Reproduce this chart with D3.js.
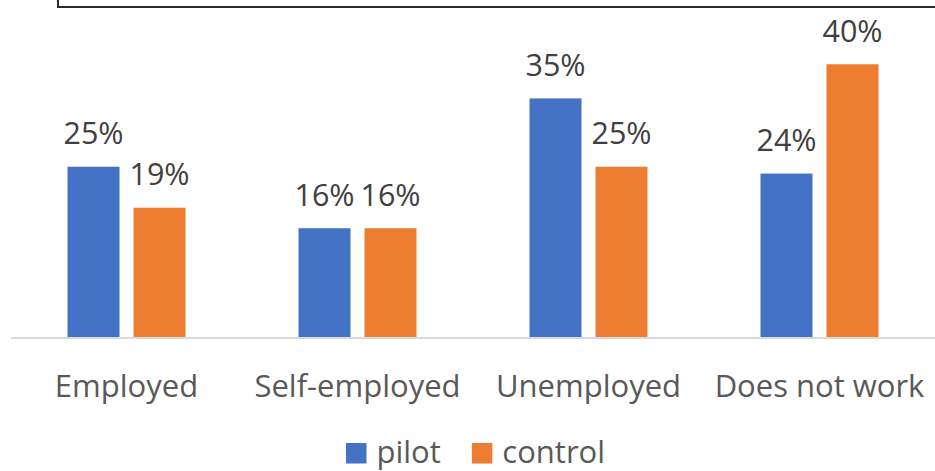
<!DOCTYPE html>
<html>
<head>
<meta charset="utf-8">
<script src="https://cdn.jsdelivr.net/npm/d3@7"></script>
<style>
  html, body { margin: 0; padding: 0; background: #fff; }
  svg { display: block; }
  text { font-family: "Open Sans", Lato, sans-serif; }
</style>
</head>
<body>
<svg id="chart" width="935" height="471"></svg>
<script>
// Employment status by group
const categories = ["Employed", "Self-employed", "Unemployed", "Does not work"];
const seriesNames = ["pilot", "control"];
const pilotValues = [0.25, 0.16, 0.35, 0.24];
const controlValues = [0.19, 0.16, 0.25, 0.40];
const seriesColors = ["#4472C4", "#ED7D31"];

const width = 935, height = 471;
const svg = d3.select("#chart");
const fontFamily = "'Open Sans', Lato, sans-serif";

const rows = categories.map((c, i) => ({
  category: c,
  values: [
    { key: seriesNames[0], value: pilotValues[i], color: seriesColors[0] },
    { key: seriesNames[1], value: controlValues[i], color: seriesColors[1] }
  ]
}));

// frame of the title box above the plot
svg.append("path")
  .attr("d", "M58,-2 V7 H940")
  .attr("fill", "none")
  .attr("stroke", "#2b2b2b")
  .attr("stroke-width", 2);

const x0 = d3.scaleBand().domain(categories).range([11, 935]).padding(0);
const groupWidth = 118;
const x1 = d3.scaleBand().domain(seriesNames)
  .range([(x0.bandwidth() - groupWidth) / 2, (x0.bandwidth() + groupWidth) / 2])
  .paddingInner(0.212).paddingOuter(0);
const y = d3.scaleLinear().domain([0, 0.45]).range([337.5, 30.1]);

const fmt = d3.format(".0%");

const groups = svg.append("g").selectAll("g")
  .data(rows).join("g")
  .attr("transform", d => `translate(${x0(d.category)},0)`);

groups.selectAll("rect")
  .data(d => d.values).join("rect")
  .attr("x", d => x1(d.key))
  .attr("width", x1.bandwidth())
  .attr("y", d => y(d.value))
  .attr("height", d => y(0) - y(d.value))
  .attr("fill", d => d.color);

groups.selectAll("text.value")
  .data(d => d.values).join("text")
  .attr("class", "value")
  .attr("x", d => x1(d.key) + x1.bandwidth() / 2)
  .attr("y", d => y(d.value) - 22.5)
  .attr("text-anchor", "middle")
  .attr("font-size", 30.5)
  .attr("fill", "#404040")
  .text(d => fmt(d.value));

// category axis
const xAxis = svg.append("g")
  .attr("transform", `translate(0,${y(0)})`)
  .call(d3.axisBottom(x0).tickSize(0).tickPadding(0));
xAxis.select(".domain")
  .attr("stroke", "#d9d9d9")
  .attr("stroke-width", 2)
  .attr("d", "M11,0.5H935");
xAxis.selectAll(".tick text")
  .attr("y", 59)
  .attr("dy", 0)
  .attr("font-size", 31)
  .attr("font-family", fontFamily)
  .attr("fill", "#595959");

// legend
const legend = svg.append("g");
let lx = 346;
seriesNames.forEach((name, i) => {
  legend.append("rect")
    .attr("x", lx).attr("y", 443)
    .attr("width", 20.5).attr("height", 20.5)
    .attr("fill", seriesColors[i]);
  const t = legend.append("text")
    .attr("x", lx + 30.5).attr("y", 463)
    .attr("font-size", 31)
    .attr("fill", "#595959")
    .text(name);
  lx += 30.5 + t.node().getComputedTextLength() + 31;
});
</script>
</body>
</html>
